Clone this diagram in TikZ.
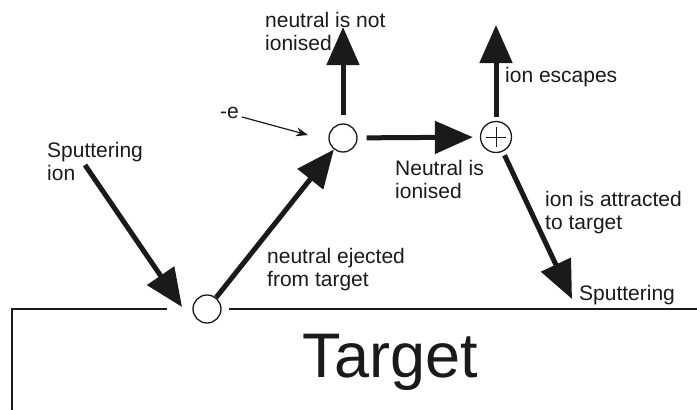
\documentclass[tikz,border=0pt]{standalone}
\usepackage{fontspec}
\setmainfont{Liberation Sans}
\usetikzlibrary{arrows.meta}
\definecolor{ink}{HTML}{1A1A1A}
\tikzset{
  big/.style={draw=ink, line width=5pt, -{Triangle[length=38pt,width=32pt]}},
  thinarr/.style={draw=ink, line width=1.2pt, -{Stealth[length=12pt,width=9pt]}},
  particle/.style={circle, draw=ink, line width=1.3pt, minimum size=28pt, inner sep=0pt, fill=white},
  lbl/.style={anchor=base west, align=left, inner sep=0pt, font=\fontsize{21}{23}\selectfont, text=ink},
  edge/.style={draw=ink, line width=1.3pt}
}
\begin{document}
\begin{tikzpicture}[x=1pt,y=-1pt]
\useasboundingbox (0,0) rectangle (697,410);
% target surface
\coordinate (tl) at (12,410);
\coordinate (tc) at (12,309);
\coordinate (g1) at (167,309);
\coordinate (g2) at (229,309);
\coordinate (tr) at (697,309);
\draw[edge] (tl) -- (tc) -- (g1);
\draw[edge] (g2) -- (tr);
\node[anchor=base, inner sep=0pt, font=\fontsize{63}{63}\selectfont, text=ink] (target) at (390,377) {Target};
% particles
\node[particle] (b) at (207,309) {};
\node[particle] (m) at (343,138) {};
\node[particle, minimum size=31pt] (p) at (496,137) {};
\draw[ink, line width=1pt] ([xshift=-10pt]p.center) -- ([xshift=10pt]p.center);
\draw[ink, line width=1pt] ([yshift=-10pt]p.center) -- ([yshift=10pt]p.center);
% free ends
\coordinate (si0) at (85,165);
\coordinate (si1) at (182,307);
\coordinate (mu) at (343,27);
\coordinate (pu) at (496,25);
\coordinate (pd) at (572,299);
\coordinate (e0) at (242,117);
\coordinate (e1) at (308,135);
% arrows
\draw[big] (si0) -- (si1);
\draw[big] (b) -- (m);
\draw[big, shorten <=8pt] (m) -- (mu);
\draw[big, shorten <=9pt, shorten >=7pt] (m) -- (p);
\draw[big, shorten <=4pt] (p) -- (pu);
\draw[big, shorten <=4pt] (p) -- (pd);
\draw[thinarr] (e0) -- (e1);
% labels (base = baseline of last line)
\node[lbl] (l1) at (265,50) {neutral is not\\ionised};
\node[lbl] (l2) at (220,118) {-e};
\node[lbl] (l3) at (47,180) {Sputtering\\ion};
\node[lbl] (l4) at (505,82) {ion escapes};
\node[lbl] (l5) at (395,198) {Neutral is\\ionised};
\node[lbl] (l6) at (545,229) {ion is attracted\\to target};
\node[lbl] (l7) at (267,286) {neutral ejected\\from target};
\node[lbl] (l8) at (579,300) {Sputtering};
\end{tikzpicture}
\end{document}
